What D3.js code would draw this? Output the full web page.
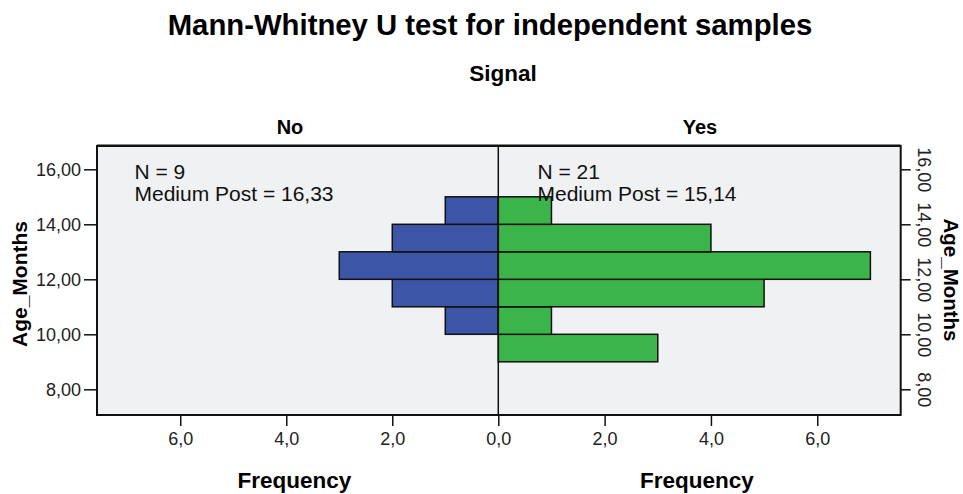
<!DOCTYPE html>
<html>
<head>
<meta charset="utf-8">
<script src="https://cdn.jsdelivr.net/npm/d3@7"></script>
<style>
  body { margin: 0; background: #fff; }
  svg { display: block; font-family: "Liberation Sans", Arial, sans-serif; }
</style>
</head>
<body>
<svg id="chart" width="963" height="494"></svg>
<script>
// ---- data ----
const binStarts = [9, 10, 11, 12, 13, 14];   // Age_Months bin lower edges
const binWidth = 1;
const noCounts  = [0, 1, 2, 3, 2, 1];        // Signal = No  (N = 9)
const yesCounts = [3, 1, 5, 7, 4, 1];        // Signal = Yes (N = 21)
const yTicks = [8, 10, 12, 14, 16];
const xTicks = [0, 2, 4, 6];
const panelLabels = ["No", "Yes"];
const panelN = ["N = 9", "N = 21"];
const panelMedian = ["Medium Post = 16,33", "Medium Post = 15,14"];

// ---- layout ----
const svg = d3.select("#chart");
const L = 97, C = 498.3, R = 900.7, T = 146, B = 415;
const xMax = 7.57;

const y = d3.scaleLinear().domain([8, 16]).range([389.3, 169.3]);
const xL = d3.scaleLinear().domain([0, xMax]).range([C, L]);
const xR = d3.scaleLinear().domain([0, xMax]).range([C, R]);

const fmtY = d => d3.format(".2f")(d).replace(".", ",");
const fmtX = d => d3.format(".1f")(d).replace(".", ",");

// plot background
svg.append("rect").attr("x", L).attr("y", T).attr("width", R - L).attr("height", B - T)
  .attr("fill", "#f0f1f3");

// bars
const blue = "#3d55a6", green = "#3bb54a";
const rows = binStarts.map((s, i) => ({ s, no: noCounts[i], yes: yesCounts[i] }));

svg.append("g").selectAll("rect").data(rows.filter(d => d.no > 0)).join("rect")
  .attr("x", d => xL(d.no))
  .attr("y", d => y(d.s + binWidth))
  .attr("width", d => xL(0) - xL(d.no))
  .attr("height", d => y(d.s) - y(d.s + binWidth))
  .attr("fill", blue).attr("stroke", "#111").attr("stroke-width", 1.5);

svg.append("g").selectAll("rect").data(rows.filter(d => d.yes > 0)).join("rect")
  .attr("x", xR(0))
  .attr("y", d => y(d.s + binWidth))
  .attr("width", d => xR(d.yes) - xR(0))
  .attr("height", d => y(d.s) - y(d.s + binWidth))
  .attr("fill", green).attr("stroke", "#111").attr("stroke-width", 1.5);

// center divider
svg.append("line").attr("x1", C).attr("x2", C).attr("y1", T).attr("y2", B)
  .attr("stroke", "#111").attr("stroke-width", 1.5);

// plot border
svg.append("line").attr("x1", L).attr("x2", R).attr("y1", T - 1.5).attr("y2", T - 1.5)
  .attr("stroke", "#888").attr("stroke-width", 1);
svg.append("rect").attr("x", L).attr("y", T).attr("width", R - L).attr("height", B - T)
  .attr("fill", "none").attr("stroke", "#111").attr("stroke-width", 2);

// left axis
const gl = svg.append("g").attr("transform", `translate(${L},0)`)
  .call(d3.axisLeft(y).tickValues(yTicks).tickFormat(fmtY).tickSize(13).tickPadding(3));
gl.select(".domain").remove();
gl.selectAll("line").attr("stroke", "#111").attr("stroke-width", 1.5);
gl.selectAll("text").attr("font-size", 18).attr("fill", "#222")
  .attr("font-family", "Liberation Sans, Arial, sans-serif");

// right axis (rotated labels)
const gr = svg.append("g").attr("transform", `translate(${R},0)`)
  .call(d3.axisRight(y).tickValues(yTicks).tickFormat(fmtY).tickSize(10).tickPadding(3));
gr.select(".domain").remove();
gr.selectAll("line").attr("stroke", "#111").attr("stroke-width", 1.5);
gr.selectAll("text").attr("font-size", 18).attr("fill", "#222")
  .attr("font-family", "Liberation Sans, Arial, sans-serif")
  .attr("x", null).attr("dy", null)
  .attr("text-anchor", "middle")
  .attr("transform", "translate(17,0) rotate(90)");

// bottom axes
function bottom(scale) {
  const g = svg.append("g").attr("transform", `translate(0,${B})`)
    .call(d3.axisBottom(scale).tickValues(xTicks).tickFormat(fmtX).tickSize(11).tickPadding(6));
  g.select(".domain").remove();
  g.selectAll("line").attr("stroke", "#111").attr("stroke-width", 1.5);
  g.selectAll("text").attr("font-size", 18).attr("fill", "#222")
    .attr("font-family", "Liberation Sans, Arial, sans-serif");
  return g;
}
bottom(xL);
const gb2 = bottom(xR);
gb2.selectAll(".tick").filter(d => d === 0).remove();

// titles
svg.append("text").attr("x", 490).attr("y", 35).attr("text-anchor", "middle")
  .attr("font-size", 29.3).attr("font-weight", "bold").text("Mann-Whitney U test for independent samples");
svg.append("text").attr("x", 503).attr("y", 81).attr("text-anchor", "middle")
  .attr("font-size", 22.5).attr("font-weight", "bold").text("Signal");

const panelCx = [290, 700];
panelLabels.forEach((lab, i) => {
  svg.append("text").attr("x", panelCx[i]).attr("y", 133.5).attr("text-anchor", "middle")
    .attr("font-size", 20).attr("font-weight", "bold").text(lab);
});

// annotations
const annX = [134.5, 537.5];
annX.forEach((ax, i) => {
  svg.append("text").attr("x", ax).attr("y", 178.5).attr("font-size", 21).attr("fill", "#111").text(panelN[i]);
  svg.append("text").attr("x", ax).attr("y", 200.5).attr("font-size", 21).attr("fill", "#111").text(panelMedian[i]);
});

// axis titles
[294.5, 697].forEach(cx => {
  svg.append("text").attr("x", cx).attr("y", 488).attr("text-anchor", "middle")
    .attr("font-size", 22.5).attr("font-weight", "bold").text("Frequency");
});
svg.append("text").attr("transform", "translate(27,284) rotate(-90)").attr("text-anchor", "middle")
  .attr("font-size", 21).attr("font-weight", "bold").text("Age_Months");
svg.append("text").attr("transform", "translate(944,280) rotate(90)").attr("text-anchor", "middle")
  .attr("font-size", 20.5).attr("font-weight", "bold").text("Age_Months");
</script>
</body>
</html>
